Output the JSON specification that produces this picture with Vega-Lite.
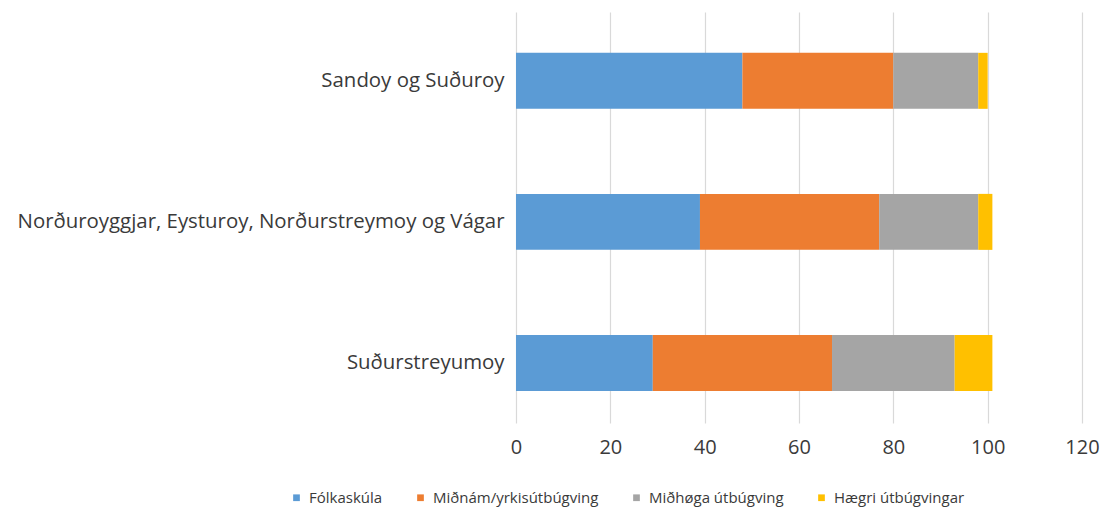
{
  "$schema": "https://vega.github.io/schema/vega-lite/v6.json",
  "width": 566,
  "height": 411,
  "autosize": "none",
  "padding": {"left": 516, "top": 12, "right": 21, "bottom": 88},
  "background": "white",
  "config": {
    "view": {"stroke": null},
    "font": "Open Sans"
  },
  "data": {
    "values": [
      {"region": "Sandoy og Suðuroy", "level": "Fólkaskúla", "k": 1, "value": 48},
      {"region": "Sandoy og Suðuroy", "level": "Miðnám/yrkisútbúgving", "k": 2, "value": 32},
      {"region": "Sandoy og Suðuroy", "level": "Miðhøga útbúgving", "k": 3, "value": 18},
      {"region": "Sandoy og Suðuroy", "level": "Hægri útbúgvingar", "k": 4, "value": 2},
      {"region": "Norðuroyggjar, Eysturoy, Norðurstreymoy og Vágar", "level": "Fólkaskúla", "k": 1, "value": 39},
      {"region": "Norðuroyggjar, Eysturoy, Norðurstreymoy og Vágar", "level": "Miðnám/yrkisútbúgving", "k": 2, "value": 38},
      {"region": "Norðuroyggjar, Eysturoy, Norðurstreymoy og Vágar", "level": "Miðhøga útbúgving", "k": 3, "value": 21},
      {"region": "Norðuroyggjar, Eysturoy, Norðurstreymoy og Vágar", "level": "Hægri útbúgvingar", "k": 4, "value": 3},
      {"region": "Suðurstreyumoy", "level": "Fólkaskúla", "k": 1, "value": 29},
      {"region": "Suðurstreyumoy", "level": "Miðnám/yrkisútbúgving", "k": 2, "value": 38},
      {"region": "Suðurstreyumoy", "level": "Miðhøga útbúgving", "k": 3, "value": 26},
      {"region": "Suðurstreyumoy", "level": "Hægri útbúgvingar", "k": 4, "value": 8}
    ]
  },
  "mark": {"type": "bar"},
  "encoding": {
    "y": {
      "field": "region",
      "type": "nominal",
      "sort": ["Sandoy og Suðuroy", "Norðuroyggjar, Eysturoy, Norðurstreymoy og Vágar", "Suðurstreyumoy"],
      "scale": {"paddingInner": 0.603, "paddingOuter": 0.2585, "align": 0.56},
      "axis": {
        "title": null,
        "domain": false,
        "ticks": false,
        "grid": false,
        "labelPadding": 12,
        "labelFontSize": 20.4,
        "labelColor": "#3a3a3a",
        "labelLimit": 600
      }
    },
    "x": {
      "field": "value",
      "type": "quantitative",
      "stack": "zero",
      "scale": {"domain": [0, 120], "nice": false},
      "axis": {
        "title": null,
        "values": [0, 20, 40, 60, 80, 100, 120],
        "domain": false,
        "ticks": false,
        "grid": true,
        "gridColor": "#d9d9d9",
        "gridWidth": 1.2,
        "labelPadding": 14,
        "labelFontSize": 20,
        "labelFlush": false,
        "labelOverlap": false,
        "labelColor": "#3a3a3a"
      }
    },
    "color": {
      "field": "level",
      "type": "nominal",
      "scale": {
        "domain": ["Fólkaskúla", "Miðnám/yrkisútbúgving", "Miðhøga útbúgving", "Hægri útbúgvingar"],
        "range": ["#5B9BD5", "#ED7D31", "#A5A5A5", "#FFC000"]
      },
      "legend": {
        "title": null,
        "orient": "none",
        "legendX": -227,
        "legendY": 478,
        "direction": "horizontal",
        "columns": 4,
        "columnPadding": 30,
        "padding": 0,
        "symbolType": "square",
        "symbolSize": 45,
        "symbolStrokeWidth": 0,
        "labelFontSize": 15,
        "labelColor": "#3a3a3a",
        "labelOffset": 5,
        "labelLimit": 300
      }
    },
    "order": {"field": "k", "type": "quantitative"}
  }
}
